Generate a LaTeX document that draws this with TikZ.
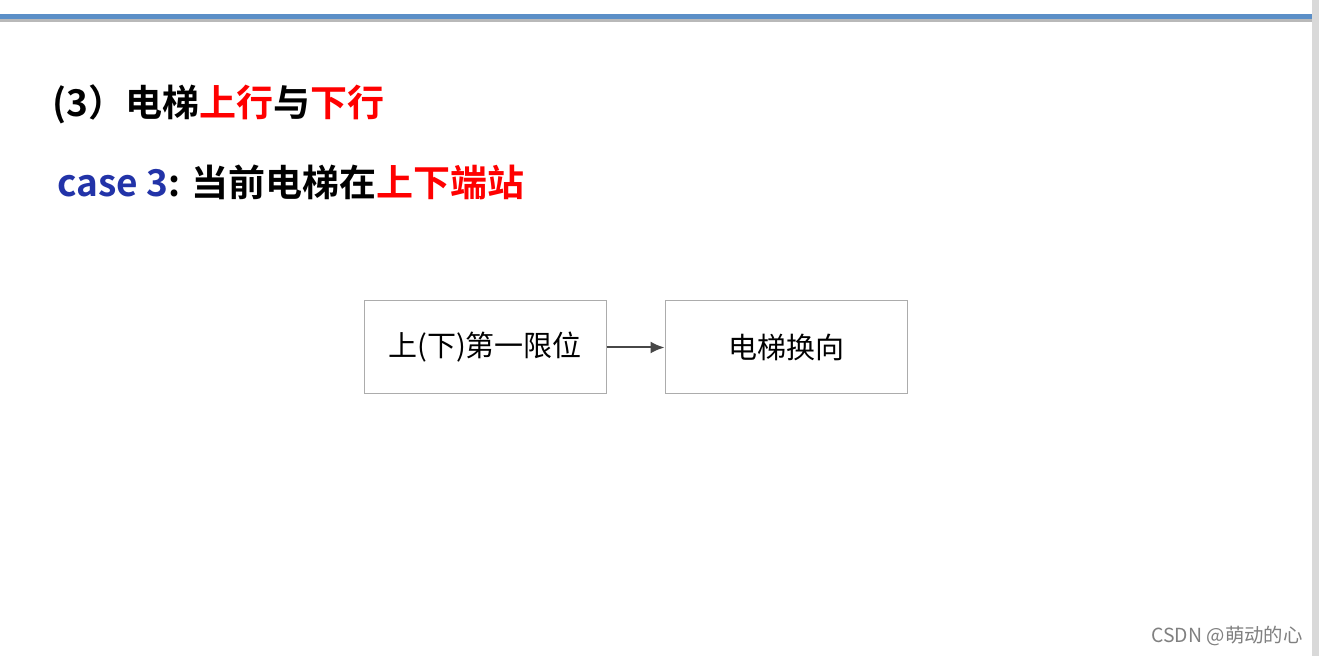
\documentclass[tikz,border=0pt]{standalone}
\usepackage{fontspec}
\setmainfont{Noto Sans CJK SC}[BoldFont={Noto Sans CJK SC Bold}]
\usetikzlibrary{arrows.meta}
\definecolor{barblue}{HTML}{5B8FC7}
\definecolor{caseblue}{HTML}{2233A8}
\begin{document}
\begin{tikzpicture}[x=0.5pt,y=-0.5pt,
  box/.style={draw=gray!65,line width=0.5pt,minimum width=121pt,minimum height=46.5pt,
    inner sep=0pt,font=\fontsize{14.5}{17}\selectfont},
  headline/.style={anchor=base west,inner sep=0pt,font=\fontsize{18.5}{22}\selectfont\bfseries}]

  \useasboundingbox (0,0) rectangle (1319,656);
  \fill[white] (0,0) rectangle (1319,656);
  \fill[gray!30] (1312,0) rectangle (1319,656);
  \fill[gray!55] (0,18) rectangle (1312,22);
  \fill[barblue] (0,14) rectangle (1312,19);

  \node[headline] (title) at (52,117) {(3）电梯\textcolor{red}{上行}与\textcolor{red}{下行}};
  \node[headline] (case) at (57,197) {\textcolor{caseblue}{case 3}: 当前电梯在\textcolor{red}{上下端站}};

  \node[box] (limit) at (485,347.5) {上(下)第一限位};
  \node[box] (turn) at (786,347.5) {电梯换向};
  \draw[-{Latex[length=7pt,width=6pt]},line width=1pt,black!72] (limit) -- (turn);

  \node[anchor=base east,inner sep=0pt,gray,font=\fontsize{9.7}{12}\selectfont] (mark) at (1303,643) {CSDN @萌动的心};

\end{tikzpicture}
\end{document}
